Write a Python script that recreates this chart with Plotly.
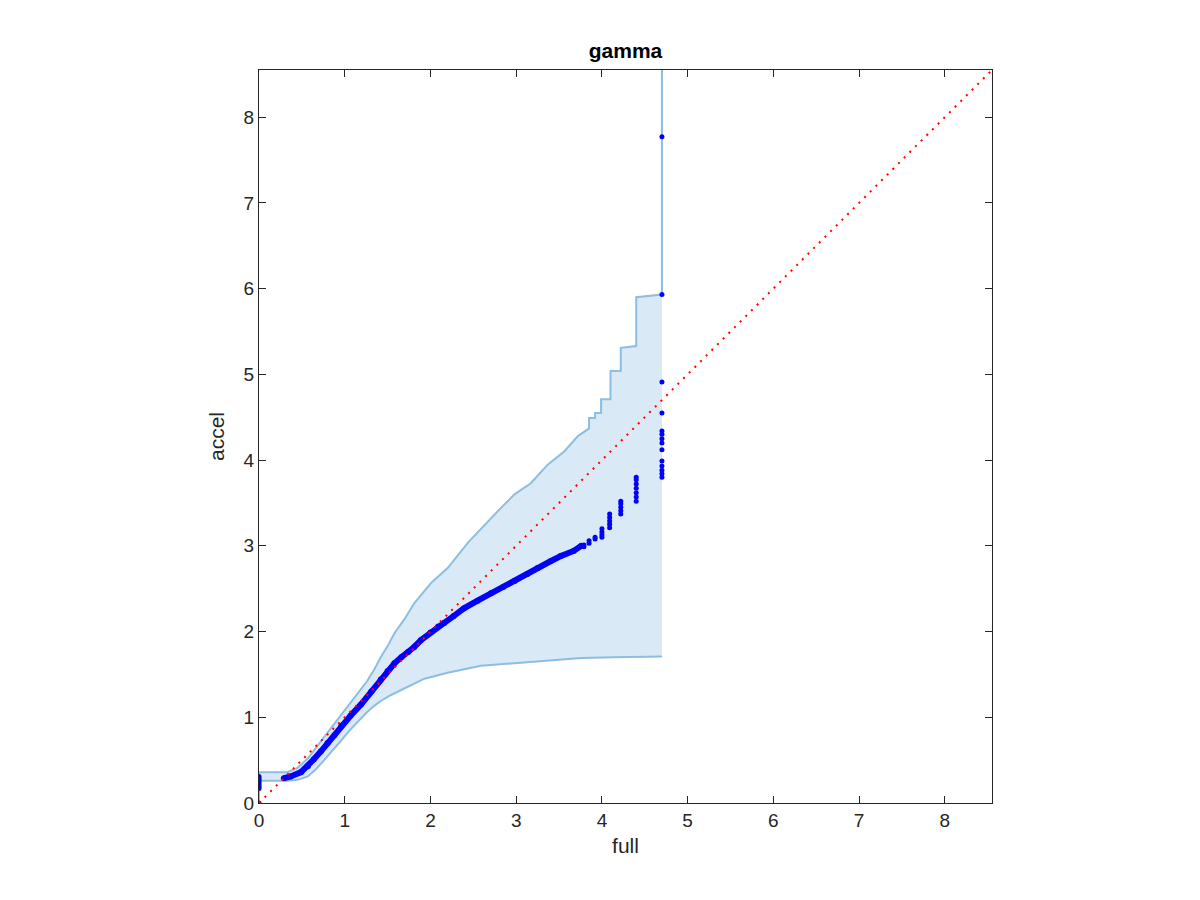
import plotly.graph_objects as go

# Upper envelope of the confidence band
upper_x = [0, 0, 0.33, 0.45, 0.57, 0.69, 0.76, 0.86, 0.96, 1.06, 1.15, 1.26, 1.34, 1.42, 1.50, 1.58,
           1.70, 1.81, 2.01, 2.20, 2.44, 2.59, 2.82, 2.98, 3.17, 3.37, 3.56, 3.72, 3.80, 3.85,
           3.85, 3.92, 3.92, 3.99, 3.99, 4.10, 4.10, 4.22, 4.22, 4.40, 4.40, 4.70, 4.70]
upper_y = [0, 0.36, 0.36, 0.41, 0.52, 0.67, 0.77, 0.90, 1.03, 1.16, 1.28, 1.42, 1.55, 1.70, 1.83, 1.98,
           2.15, 2.33, 2.57, 2.74, 3.04, 3.20, 3.44, 3.60, 3.73, 3.95, 4.10, 4.28, 4.33, 4.37,
           4.49, 4.49, 4.55, 4.55, 4.71, 4.71, 5.04, 5.04, 5.31, 5.33, 5.90, 5.93, 12.0]

# Lower envelope of the confidence band
lower_x = [0, 0, 0.33, 0.45, 0.57, 0.66, 0.76, 0.86, 0.96, 1.06, 1.15, 1.25, 1.34, 1.42, 1.54, 1.66,
           1.80, 1.93, 2.20, 2.59, 2.98, 3.37, 3.76, 4.14, 4.70]
lower_y = [0, 0.26, 0.26, 0.27, 0.31, 0.39, 0.50, 0.61, 0.73, 0.85, 0.95, 1.05, 1.13, 1.19, 1.26, 1.32,
           1.39, 1.45, 1.52, 1.60, 1.63, 1.66, 1.69, 1.70, 1.71]

# Dense body of quantile pairs (full vs accel)
body_x = [0.29, 0.37, 0.49, 0.57, 0.64, 0.72, 0.80, 0.88, 0.96, 1.07, 1.19, 1.31, 1.42, 1.50, 1.58,
          1.66, 1.74, 1.81, 1.89, 2.00, 2.09, 2.16, 2.27, 2.39, 2.55, 2.71, 2.85, 2.98, 3.13, 3.25,
          3.40, 3.52, 3.67, 3.76]
body_y = [0.29, 0.31, 0.36, 0.43, 0.51, 0.60, 0.70, 0.79, 0.90, 1.02, 1.15, 1.30, 1.44, 1.54, 1.63,
          1.70, 1.76, 1.82, 1.90, 1.99, 2.06, 2.10, 2.18, 2.27, 2.36, 2.45, 2.52, 2.59, 2.67, 2.74,
          2.82, 2.88, 2.94, 3.00]

# Discrete quantile pairs (zeros and tail)
pts_x = [0, 0, 0, 0, 0, 0, 0, 0, 0,
         3.79, 3.79, 3.85, 3.85, 3.92, 3.92,
         4.00, 4.00, 4.00, 4.00,
         4.09, 4.09, 4.09, 4.09, 4.09,
         4.22, 4.22, 4.22, 4.22, 4.22,
         4.40, 4.40, 4.40, 4.40, 4.40, 4.40, 4.40,
         4.70, 4.70, 4.70, 4.70, 4.70, 4.70, 4.70, 4.70, 4.70, 4.70, 4.70, 4.70, 4.70, 4.70]
pts_y = [0, 0.17, 0.19, 0.21, 0.23, 0.25, 0.27, 0.29, 0.31,
         2.99, 3.01, 3.03, 3.06, 3.08, 3.10,
         3.10, 3.13, 3.16, 3.20,
         3.21, 3.25, 3.29, 3.33, 3.37,
         3.37, 3.41, 3.45, 3.49, 3.52,
         3.52, 3.57, 3.62, 3.67, 3.72, 3.77, 3.80,
         3.80, 3.84, 3.88, 3.93, 3.99, 4.12, 4.20, 4.25, 4.30, 4.34, 4.55, 4.91, 5.93, 7.77]

axis_max = 8.55
ticks = [0, 1, 2, 3, 4, 5, 6, 7, 8]
ref_line = [0, axis_max]

band_line = "rgb(140,190,226)"
band_fill = "rgb(217,233,245)"
blue = "rgb(0,0,255)"
font = "Liberation Sans, Arial, Helvetica, sans-serif"

fig = go.Figure()

fig.add_trace(go.Scatter(
    x=upper_x + lower_x[::-1], y=upper_y + lower_y[::-1],
    fill="toself", fillcolor=band_fill, mode="none", hoverinfo="skip", showlegend=False))
fig.add_trace(go.Scatter(x=upper_x, y=upper_y, mode="lines",
                         line=dict(color=band_line, width=2), showlegend=False))
fig.add_trace(go.Scatter(x=lower_x, y=lower_y, mode="lines",
                         line=dict(color=band_line, width=2), showlegend=False))
fig.add_trace(go.Scatter(x=body_x, y=body_y, mode="lines+markers",
                         line=dict(color=blue, width=6),
                         marker=dict(color=blue, size=6), showlegend=False))
fig.add_trace(go.Scatter(x=pts_x, y=pts_y, mode="markers",
                         marker=dict(color=blue, size=5), showlegend=False))
fig.add_trace(go.Scatter(x=ref_line, y=ref_line, mode="lines",
                         line=dict(color="red", width=2, dash="2px,6px"), showlegend=False))

axis_common = dict(
    range=[0, axis_max], tickvals=ticks, ticktext=[str(t) for t in ticks],
    ticks="inside", ticklen=7, tickwidth=1, tickcolor="#262626",
    showline=True, linecolor="#262626", linewidth=1, mirror="ticks",
    showgrid=False, zeroline=False,
    tickfont=dict(family=font, size=19, color="#262626"),
)

fig.update_layout(
    width=1200, height=900,
    margin=dict(l=251, r=216, t=62, b=105),
    paper_bgcolor="white", plot_bgcolor="white",
    title=dict(text="<b>gamma</b>", x=(251 + 251 + 733) / 2 / 1200, xanchor="center",
               y=1 - 43 / 900, yanchor="middle",
               font=dict(family=font, size=21, color="black")),
    xaxis=dict(**axis_common, title=dict(text="full", standoff=8,
                                         font=dict(family=font, size=21, color="#262626"))),
    yaxis=dict(**axis_common, title=dict(text="accel", standoff=13,
                                         font=dict(family=font, size=21, color="#262626"))),
)

fig.write_html("out.html")
